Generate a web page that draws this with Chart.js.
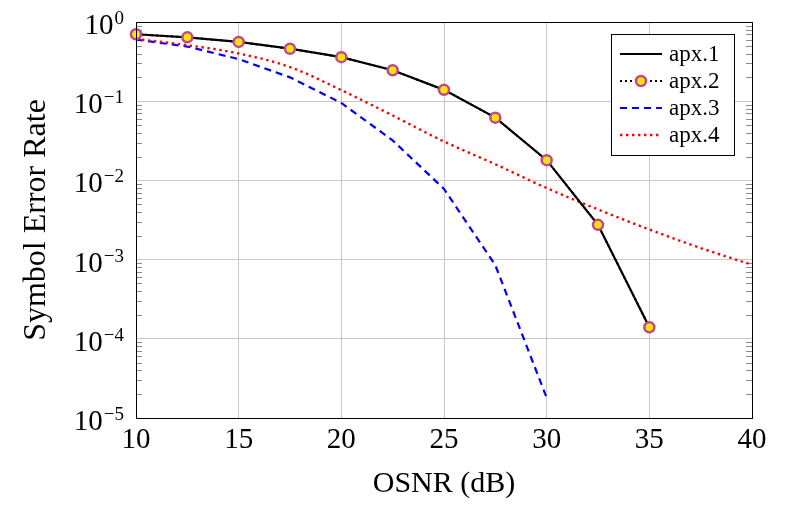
<!DOCTYPE html>
<html>
<head>
<meta charset="utf-8">
<script src="https://cdn.jsdelivr.net/npm/chart.js"></script>
<style>
  html, body { margin: 0; padding: 0; background: #fff; }
  #wrap { width: 788px; height: 511px; }
</style>
</head>
<body>
<div id="wrap"><canvas id="myChart" width="788" height="511"></canvas></div>
<script>
// data
var osnr12 = [10, 12.5, 15, 17.5, 20, 22.5, 25, 27.5, 30, 32.5, 35];
var ser12 = [0.70, 0.64, 0.56, 0.46, 0.36, 0.246, 0.139, 0.062, 0.018, 0.00275, 0.00014];

var osnr3 = [10, 12.5, 15, 17.5, 20, 22.5, 25, 27.5, 30];
var ser3 = [0.60, 0.49, 0.34, 0.20, 0.095, 0.032, 0.0078, 0.00085, 0.000018];

var osnr4 = [10, 12.5, 15, 17.5, 20, 22.5, 25, 27.5, 30, 32.5, 35, 37.5, 40];
var ser4 = [0.61, 0.51, 0.40, 0.27, 0.138, 0.066, 0.031, 0.016, 0.008, 0.0043, 0.0024, 0.0014, 0.00086];

var xTicks = [10, 15, 20, 25, 30, 35, 40];
var yDecades = [0, -1, -2, -3, -4, -5];
var seriesNames = ['apx.1', 'apx.2', 'apx.3', 'apx.4'];

var serif = "'Liberation Serif', 'DejaVu Serif', serif";

function pts(xs, ys) {
    return xs.map(function (x, i) { return { x: x, y: ys[i] }; });
}

// frame, minor ticks, y tick labels with superscript exponents, legend box
var decor = {
    id: 'decor',
    beforeDatasetsDraw: function (chart) {
        var ctx = chart.ctx, a = chart.chartArea, y = chart.scales.y;
        ctx.save();
        ctx.strokeStyle = '#8a8a8a';
        ctx.lineWidth = 1;
        for (var d = -5; d < 0; d++) {
            for (var k = 2; k <= 9; k++) {
                var py = Math.round(y.getPixelForValue(k * Math.pow(10, d))) + 0.5;
                ctx.beginPath();
                ctx.moveTo(a.left, py); ctx.lineTo(a.left + 6, py);
                ctx.moveTo(a.right, py); ctx.lineTo(a.right - 6, py);
                ctx.stroke();
            }
        }
        ctx.restore();
    },
    afterDraw: function (chart) {
        var ctx = chart.ctx, a = chart.chartArea, y = chart.scales.y;
        ctx.save();
        // frame
        ctx.strokeStyle = '#000';
        ctx.lineWidth = 1;
        ctx.strokeRect(Math.round(a.left) + 0.5, Math.round(a.top) + 0.5,
            Math.round(a.right - a.left), Math.round(a.bottom - a.top));

        // y tick labels
        ctx.fillStyle = '#000';
        ctx.textAlign = 'left';
        ctx.textBaseline = 'alphabetic';
        yDecades.forEach(function (d) {
            var py = y.getPixelForValue(Math.pow(10, d));
            var ex = d === 0 ? '0' : '\u2212' + (-d);
            ctx.font = '19px ' + serif;
            var wEx = ctx.measureText(ex).width;
            ctx.font = '29px ' + serif;
            var wBase = ctx.measureText('10').width;
            var right = a.left - 12;
            var x0 = right - wEx - wBase - 1;
            ctx.fillText('10', x0, py + 12);
            ctx.font = '19px ' + serif;
            ctx.fillText(ex, x0 + wBase + 1, py + 2);
        });

        // legend
        var bx = a.right - 141, by = a.top + 12, bw = 123, bh = 121;
        ctx.fillStyle = '#fff';
        ctx.fillRect(bx, by, bw, bh);
        ctx.strokeStyle = '#000';
        ctx.lineWidth = 1;
        ctx.strokeRect(Math.round(bx) + 0.5, Math.round(by) + 0.5, bw, bh);
        chart.data.datasets.forEach(function (ds, i) {
            var ly = by + 20 + i * 27;
            var lx0 = bx + 9, lx1 = bx + 51;
            ctx.save();
            ctx.strokeStyle = ds.borderColor;
            ctx.lineWidth = ds.borderWidth;
            ctx.setLineDash(ds.borderDash || []);
            ctx.beginPath();
            ctx.moveTo(lx0, ly); ctx.lineTo(lx1, ly);
            ctx.stroke();
            ctx.restore();
            if (ds.pointRadius > 0) {
                ctx.save();
                ctx.beginPath();
                ctx.arc((lx0 + lx1) / 2, ly, ds.pointRadius, 0, Math.PI * 2);
                ctx.fillStyle = ds.pointBackgroundColor;
                ctx.fill();
                ctx.lineWidth = ds.pointBorderWidth;
                ctx.strokeStyle = ds.pointBorderColor;
                ctx.stroke();
                ctx.restore();
            }
            ctx.fillStyle = '#000';
            ctx.font = '23px ' + serif;
            ctx.textBaseline = 'middle';
            ctx.fillText(ds.label, lx1 + 7, ly + 1);
        });
        ctx.restore();
    }
};

var dataObj = {
    type: 'line',
    data: {
        datasets: [{
            label: seriesNames[0],
            data: pts(osnr12, ser12),
            borderColor: '#000',
            borderWidth: 2.2,
            pointRadius: 0,
            order: 1
        }, {
            label: seriesNames[1],
            data: pts(osnr12, ser12),
            borderColor: '#000',
            borderWidth: 2,
            borderDash: [2, 3],
            pointRadius: 5,
            pointBorderWidth: 2.5,
            pointBackgroundColor: '#ffe600',
            pointBorderColor: '#c0468e',
            clip: false,
            order: 0
        }, {
            label: seriesNames[2],
            data: pts(osnr3, ser3),
            borderColor: '#0000ff',
            borderWidth: 2.2,
            borderDash: [7, 5],
            pointRadius: 0,
            order: 3
        }, {
            label: seriesNames[3],
            data: pts(osnr4, ser4),
            borderColor: '#ff0000',
            borderWidth: 2.4,
            borderDash: [2.4, 3.6],
            pointRadius: 0,
            cubicInterpolationMode: 'monotone',
            order: 2
        }]
    },
    options: {
        responsive: false,
        animation: false,
        layout: { padding: { left: 0, right: 36, top: 22, bottom: 0 } },
        plugins: {
            legend: { display: false },
            tooltip: { enabled: false }
        },
        scales: {
            x: {
                type: 'linear',
                min: 10,
                max: 40,
                afterBuildTicks: function (s) {
                    s.ticks = xTicks.map(function (v) { return { value: v }; });
                },
                afterFit: function (s) { s.height = 93; },
                grid: { color: '#c8c8c8', lineWidth: 1, drawTicks: false },
                border: { display: false },
                ticks: {
                    color: '#000',
                    padding: 5,
                    maxRotation: 0,
                    font: { family: serif, size: 29 }
                },
                title: {
                    display: true,
                    text: 'OSNR (dB)',
                    color: '#000',
                    font: { family: serif, size: 30 },
                    padding: { top: 0, bottom: 9 }
                }
            },
            y: {
                type: 'logarithmic',
                min: 1e-5,
                max: 1,
                afterBuildTicks: function (s) {
                    s.ticks = yDecades.map(function (d) { return { value: Math.pow(10, d) }; });
                },
                afterFit: function (s) { s.width = 136; },
                grid: { color: '#c8c8c8', lineWidth: 1, drawTicks: false },
                border: { display: false },
                ticks: { display: false },
                title: {
                    display: true,
                    text: 'Symbol Error Rate',
                    color: '#000',
                    font: { family: serif, size: 32 },
                    padding: { top: 17, bottom: 0 }
                }
            }
        }
    },
    plugins: [decor]
};

var ctx = document.getElementById('myChart').getContext('2d');
window.myLine = new Chart(ctx, dataObj);
</script>
</body>
</html>
